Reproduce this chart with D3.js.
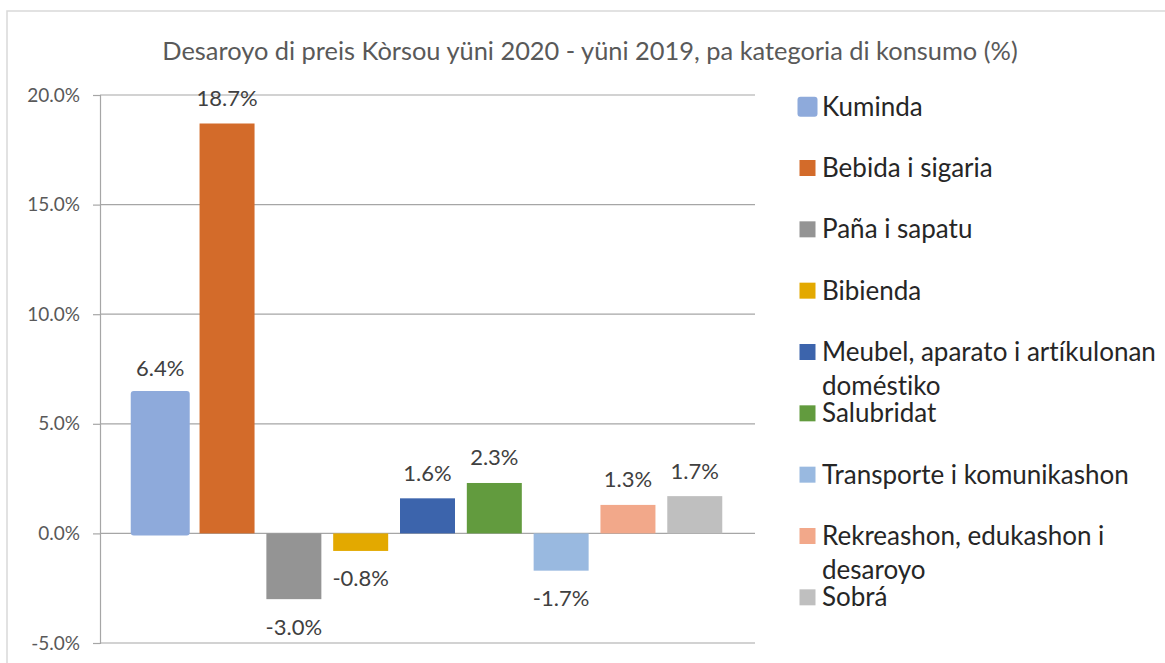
<!DOCTYPE html>
<html>
<head>
<meta charset="utf-8">
<script src="https://cdn.jsdelivr.net/npm/d3@7"></script>
<style>
  body { margin: 0; background: #fff; }
  svg { display: block; font-family: Lato, "Open Sans", sans-serif; font-variant-ligatures: none; }
</style>
</head>
<body>
<div id="chart"></div>
<script>
// data
var title = "Desaroyo di preis Kòrsou yüni 2020 - yüni 2019, pa kategoria di konsumo (%)";
var categories = ["Kuminda", "Bebida i sigaria", "Paña i sapatu", "Bibienda",
    "Meubel, aparato i artíkulonan doméstiko", "Salubridat",
    "Transporte i komunikashon", "Rekreashon, edukashon i desaroyo", "Sobrá"];
var values = [6.4, 18.7, -3.0, -0.8, 1.6, 2.3, -1.7, 1.3, 1.7];
var colors = ["#8eaadb", "#d36b2a", "#949494", "#e3a900", "#3c64ac",
    "#629b3e", "#99b9e0", "#f2a88a", "#bfbfbf"];
var yTicks = [-5, 0, 5, 10, 15, 20];

var W = 1165, H = 663;
var pct = function(d) { return d3.format(".1f")(d).replace("\u2212", "-") + "%"; };

var svg = d3.select("#chart").append("svg")
    .attr("width", W)
    .attr("height", H);

// chart frame
svg.append("rect")
    .attr("x", 7).attr("y", 11)
    .attr("width", W + 20).attr("height", H + 20)
    .attr("fill", "#fff")
    .attr("stroke", "#d9d9d9")
    .attr("stroke-width", 1.5);

svg.append("text")
    .attr("x", 590).attr("y", 50)
    .attr("text-anchor", "middle")
    .attr("dominant-baseline", "central")
    .attr("fill", "#595959")
    .style("font-size", "25.4px")
    .text(title);

var plot = {left: 100, right: 755, top: 95, bottom: 643};

var y = d3.scaleLinear()
    .domain([-5, 20])
    .range([plot.bottom, plot.top]);

var x = d3.scaleBand()
    .domain(categories)
    .range([plot.left, plot.right])
    .paddingInner(0.177)
    .paddingOuter(0.49);

// grid lines
svg.append("g")
    .selectAll("line")
    .data(yTicks)
    .enter().append("line")
    .attr("x1", plot.left)
    .attr("x2", plot.right)
    .attr("y1", function(d) { return y(d); })
    .attr("y2", function(d) { return y(d); })
    .attr("stroke", "#a6a6a6")
    .attr("stroke-width", 1.2);

// y axis
var yAxis = svg.append("g")
    .attr("transform", "translate(" + plot.left + ",0)")
    .call(d3.axisLeft(y)
        .tickValues(yTicks)
        .tickSize(7)
        .tickPadding(13)
        .tickFormat(pct));
yAxis.select(".domain").attr("stroke", "#a6a6a6").attr("stroke-width", 1.2);
yAxis.selectAll(".tick line").attr("stroke", "#a6a6a6").attr("stroke-width", 1.2);
yAxis.selectAll(".tick text")
    .attr("fill", "#595959")
    .style("font-family", "Lato, sans-serif")
    .style("font-size", "19px");

// bars (first series drawn slightly raised / rounded like the reference)
svg.append("g")
    .selectAll("rect")
    .data(values)
    .enter().append("rect")
    .attr("x", function(d, i) { return x(categories[i]) - (i === 0 ? 2 : 0); })
    .attr("width", function(d, i) { return x.bandwidth() + (i === 0 ? 4 : 0); })
    .attr("y", function(d, i) { return Math.min(y(d), y(0)) - (i === 0 ? 2 : 0); })
    .attr("height", function(d, i) { return Math.abs(y(d) - y(0)) + (i === 0 ? 4 : 0); })
    .attr("rx", function(d, i) { return i === 0 ? 3 : 0; })
    .attr("fill", function(d, i) { return colors[i]; });

// value labels
svg.append("g")
    .selectAll("text")
    .data(values)
    .enter().append("text")
    .attr("x", function(d, i) { return x(categories[i]) + x.bandwidth() / 2; })
    .attr("y", function(d) { return d >= 0 ? y(d) - 26 : y(d) + 27; })
    .attr("text-anchor", "middle")
    .attr("dominant-baseline", "central")
    .attr("fill", "#404040")
    .style("font-size", "22px")
    .text(pct);

// legend
var legendY = d3.scaleBand()
    .domain(categories)
    .range([76, 628]);
var legendTextX = 822, legendMaxW = 338;

var items = svg.append("g")
    .selectAll("g")
    .data(categories)
    .enter().append("g")
    .attr("transform", function(d) {
        return "translate(0," + (legendY(d) + legendY.bandwidth() / 2) + ")";
    });

items.append("rect")
    .attr("x", function(d, i) { return i === 0 ? 797.5 : 799.5; })
    .attr("y", function(d, i) { return i === 0 ? -10 : -8; })
    .attr("width", function(d, i) { return i === 0 ? 20 : 16; })
    .attr("height", function(d, i) { return i === 0 ? 20 : 16; })
    .attr("rx", function(d, i) { return i === 0 ? 3 : 0; })
    .attr("fill", function(d, i) { return colors[i]; });

items.each(function(d) {
    var t = d3.select(this).append("text")
        .attr("x", legendTextX)
        .attr("fill", "#262626")
        .style("font-size", "26px");
    var words = d.split(" "), line = [], lineNo = 0;
    var tspan = t.append("tspan").attr("x", legendTextX).attr("y", 0).attr("dy", "0.35em");
    words.forEach(function(w) {
        line.push(w);
        tspan.text(line.join(" "));
        if (tspan.node().getComputedTextLength() > legendMaxW && line.length > 1) {
            line.pop();
            tspan.text(line.join(" "));
            line = [w];
            lineNo++;
            tspan = t.append("tspan").attr("x", legendTextX)
                .attr("y", lineNo * 34).attr("dy", "0.35em").text(w);
        }
    });
});
</script>
</body>
</html>
